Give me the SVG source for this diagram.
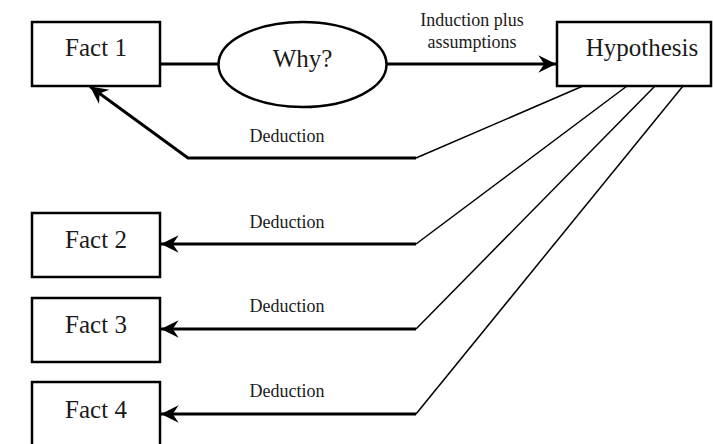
<svg xmlns="http://www.w3.org/2000/svg" width="713" height="444" viewBox="0 0 713 444">
<style>
.box{fill:#fff;stroke:#000;stroke-width:2.5}
.big{font-family:"Liberation Serif","Times New Roman",serif;font-size:25px;fill:#1a1a1a;text-anchor:middle}
.lbl{font-family:"Liberation Serif","Times New Roman",serif;font-size:18px;fill:#1a1a1a;text-anchor:middle}
.thick{fill:none;stroke:#000;stroke-width:3}
.thin{fill:none;stroke:#000;stroke-width:1.5}
</style>
<defs>
<marker id="ah" markerUnits="userSpaceOnUse" markerWidth="20" markerHeight="20" viewBox="-16 -8 17 16" refX="0" refY="0" orient="auto">
<path d="M0,0 L-15,-7.5 L-10,0 L-15,7.5 Z" fill="#000"/>
</marker>
</defs>
<g id="connectors">
<line class="thick" x1="160" y1="64" x2="218" y2="64"/>
<line class="thick" x1="387" y1="64" x2="556" y2="64" marker-end="url(#ah)"/>
<polyline class="thin" points="583,86 416,158"/>
<polyline class="thick" points="416,158 188,158 90,86.5" marker-end="url(#ah)"/>
<polyline class="thin" points="627,86 416,244"/>
<polyline class="thick" points="416,244 161,244" marker-end="url(#ah)"/>
<polyline class="thin" points="655,86 416,329"/>
<polyline class="thick" points="416,329 161,329" marker-end="url(#ah)"/>
<polyline class="thin" points="683,86 416,414"/>
<polyline class="thick" points="416,414 161,414" marker-end="url(#ah)"/>
<text class="lbl" x="472" y="26">Induction plus</text>
<text class="lbl" x="472" y="48">assumptions</text>
<text class="lbl" x="287" y="142">Deduction</text>
<text class="lbl" x="287" y="228">Deduction</text>
<text class="lbl" x="287" y="312">Deduction</text>
<text class="lbl" x="287" y="397">Deduction</text>
</g>
<g id="fact1">
<rect class="box" x="32" y="22" width="128" height="64"/>
<text class="big" x="96" y="56">Fact 1</text>
</g>
<g id="why">
<ellipse class="box" cx="302.5" cy="64.5" rx="84" ry="42.5"/>
<text class="big" x="302.5" y="67">Why?</text>
</g>
<g id="hypothesis">
<rect class="box" x="557" y="22" width="154" height="64"/>
<text class="big" x="642" y="56">Hypothesis</text>
</g>
<g id="fact2">
<rect class="box" x="32" y="213" width="128" height="64"/>
<text class="big" x="96" y="248">Fact 2</text>
</g>
<g id="fact3">
<rect class="box" x="32" y="298" width="128" height="64"/>
<text class="big" x="96" y="333">Fact 3</text>
</g>
<g id="fact4">
<rect class="box" x="32" y="382" width="128" height="64"/>
<text class="big" x="96" y="418">Fact 4</text>
</g>
</svg>
